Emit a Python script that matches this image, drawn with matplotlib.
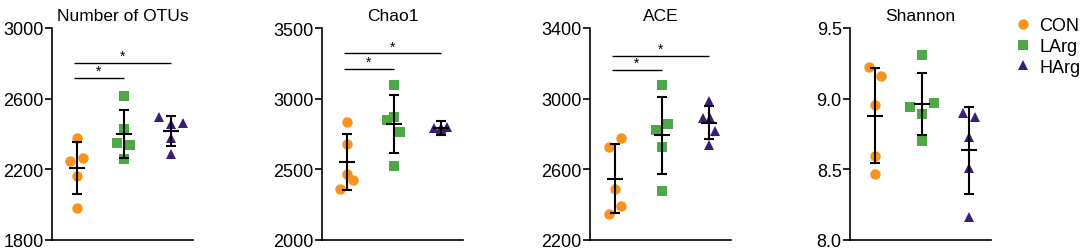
import matplotlib
matplotlib.use("Agg")
from matplotlib import pyplot as plt

plt.rcParams['font.family'] = ['Liberation Sans', 'DejaVu Sans']

groups = ['CON', 'LArg', 'HArg']
colors = ['#F7931E', '#4EA846', '#3A1D77']
markers = ['o', 's', '^']
msizes = [7.5, 6.5, 7.5]

titles = ['Number of OTUs', 'Chao1', 'ACE', 'Shannon']

# values (5 samples per group)
otus_con = [2379, 2250, 2265, 2165, 1979]
otus_larg = [2616, 2430, 2349, 2335, 2259]
otus_harg = [2499, 2459, 2461, 2379, 2288]
chao1_con = [2832, 2682, 2465, 2427, 2360]
chao1_larg = [3097, 2849, 2868, 2766, 2525]
chao1_harg = [2795, 2790, 2800, 2785, 2780]
ace_con = [2777, 2724, 2487, 2392, 2348]
ace_larg = [3079, 2857, 2823, 2724, 2479]
ace_harg = [2986, 2889, 2889, 2819, 2735]
shannon_con = [9.222, 9.161, 8.956, 8.593, 8.466]
shannon_larg = [9.312, 8.944, 8.968, 8.890, 8.704]
shannon_harg = [8.900, 8.867, 8.732, 8.506, 8.163]

# mean and SD bars
otus_mean = [2207, 2398, 2417]
otus_sd = [149, 136, 85]
chao1_mean = [2553, 2821, 2793]
chao1_sd = [197, 206, 50]
ace_mean = [2546, 2792, 2864]
ace_sd = [195, 218, 92]
shannon_mean = [8.880, 8.964, 8.634]
shannon_sd = [0.338, 0.221, 0.305]

# significance brackets (height, from group, to group)
otus_sig = [(2717, 1, 2), (2801, 1, 3)]
chao1_sig = [(3209, 1, 2), (3321, 1, 3)]
ace_sig = [(3165, 1, 2), (3244, 1, 3)]
shannon_sig = []

ylims = [(1800, 3000), (2000, 3500), (2200, 3400), (8.0, 9.5)]
yticks = [[1800, 2200, 2600, 3000], [2000, 2500, 3000, 3500],
          [2200, 2600, 3000, 3400], [8.0, 8.5, 9.0, 9.5]]
yticklabels = [None, None, None, ['8.0', '8.5', '9.0', '9.5']]

# horizontal spread of the dots
jitter = [
    [[0, -0.14, 0.13, 0, 0], [0, 0, -0.14, 0.14, 0], [-0.26, 0, 0.25, 0, 0]],
    [[0, 0, 0, 0.13, -0.14], [0, -0.15, 0.01, 0.13, 0], [-0.15, 0, 0.14, 0, 0]],
    [[0.13, -0.13, 0, 0.13, -0.13], [0, 0.12, -0.13, 0, 0], [0, -0.13, 0.02, 0.13, 0]],
    [[-0.13, 0.12, 0, 0, 0], [0, -0.26, 0.26, 0, 0], [-0.13, 0.13, 0, 0, 0]],
]

data = [[otus_con, otus_larg, otus_harg],
        [chao1_con, chao1_larg, chao1_harg],
        [ace_con, ace_larg, ace_harg],
        [shannon_con, shannon_larg, shannon_harg]]
means = [otus_mean, chao1_mean, ace_mean, shannon_mean]
sds = [otus_sd, chao1_sd, ace_sd, shannon_sd]
sigs = [otus_sig, chao1_sig, ace_sig, shannon_sig]

W, H = 1084, 251
fig = plt.figure(figsize=(W / 100, H / 100), dpi=100)
lefts = [52, 322, 590, 850]

for p in range(4):
    ax = fig.add_axes([lefts[p] / W, 10 / H, 141 / W, 212 / H])
    for g in range(3):
        xs = [g + 1 + j for j in jitter[p][g]]
        ax.plot(xs, data[p][g], linestyle='none', marker=markers[g],
                ms=msizes[g], color=colors[g], markeredgewidth=0,
                label=groups[g], zorder=2)
        m = means[p][g]
        s = sds[p][g]
        ax.vlines(g + 1, m - s, m + s, color='black', lw=1.5, zorder=3)
        ax.hlines([m - s, m + s], g + 1 - 0.1, g + 1 + 0.1, color='black', lw=1.5, zorder=3)
        ax.hlines(m, g + 1 - 0.17, g + 1 + 0.17, color='black', lw=1.5, zorder=3)
    for (h, a, b) in sigs[p]:
        ax.hlines(h, a - 0.07, b, color='black', lw=1.0)
        ax.text((a - 0.07 + b) / 2, h, '*', ha='center', va='bottom', fontsize=10)
    ax.set_xlim(0.47, 3.47)
    ax.set_ylim(*ylims[p])
    ax.set_yticks(yticks[p])
    if yticklabels[p]:
        ax.set_yticklabels(yticklabels[p])
    ax.set_xticks([])
    ax.spines['top'].set_visible(False)
    ax.spines['right'].set_visible(False)
    ax.spines['left'].set_linewidth(1.2)
    ax.spines['bottom'].set_linewidth(1.2)
    ax.tick_params(axis='y', length=5, width=1.2, labelsize=13, pad=1)
    ax.set_title(titles[p], fontsize=12.5, pad=6)
    if p == 3:
        ax.legend(loc='upper left', bbox_to_anchor=(1.15, 1.05), frameon=False,
                  fontsize=13, handletextpad=0.3, labelspacing=0.2,
                  handlelength=1.2, borderaxespad=0, borderpad=0)

plt.savefig('out.png', dpi=100)
